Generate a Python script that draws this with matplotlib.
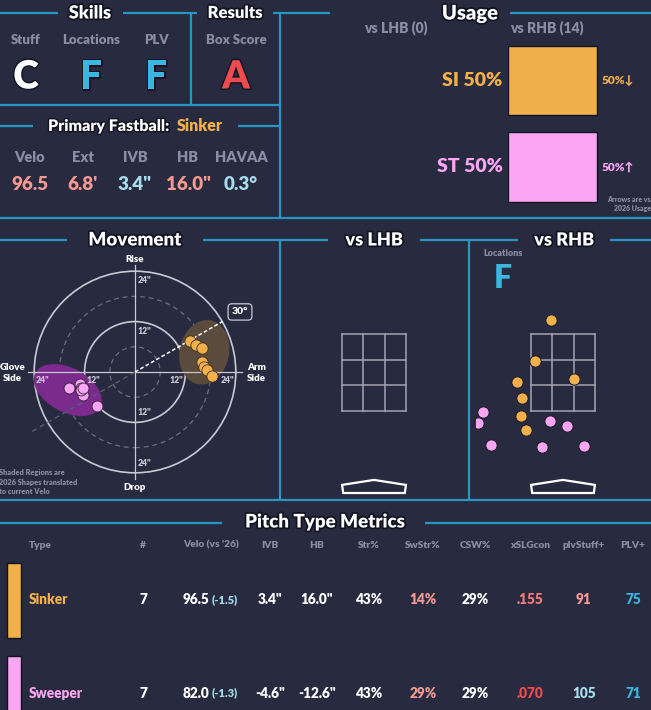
import matplotlib
matplotlib.use("Agg")
import matplotlib.pyplot as plt
import matplotlib.patheffects as pe
from matplotlib.patches import Circle, Ellipse, Polygon, Rectangle
import numpy as np

W, H = 651, 710
BG = "#282a3f"
LINE = "#2896c2"
GRAY = "#8b8da6"
WHITE = "#ffffff"
ORANGE = "#f2b04b"
PINK = "#fba6f3"
BLUE = "#3bb6e0"
LBLUE = "#a6dcec"
SALMON = "#f59a93"
RED = "#ee4b51"
RING = "#c9c9d3"

plt.rcParams['font.family'] = ['Lato', 'DejaVu Sans']
plt.rcParams['font.weight'] = 'heavy'

# ---- data ----
skill_labels = ["Stuff", "Locations", "PLV"]
skill_grades = ["C", "F", "F"]
skill_colors = [WHITE, BLUE, BLUE]
result_label = "Box Score"
result_grade = "A"

fb_name = "Sinker"
fb_labels = ["Velo", "Ext", "IVB", "HB", "HAVAA"]
fb_values = ["96.5", "6.8'", '3.4"', '16.0"', "0.3°"]
fb_colors = [SALMON, SALMON, LBLUE, SALMON, LBLUE]

usage_types = ["SI", "ST"]
usage_rhb = [50, 50]
usage_arrows = ["↓", "↑"]
n_lhb, n_rhb = 0, 14

si_hb = [13.1, 14.5, 16.0, 16.0, 16.4, 17.1, 18.3]
si_ivb = [7.4, 6.4, 5.7, 2.4, 1.2, 0.5, -1.0]
st_hb = [-15.7, -13.1, -12.9, -12.4, -9.0, -12.8, -12.3]
st_ivb = [-3.8, -2.9, -3.8, -5.5, -8.1, -4.3, -3.8]
arm_angle = 30

si_plate_x = [-0.31, -0.73, 0.29, -1.19, -1.06, -1.09, -0.96]
si_plate_z = [3.86, 2.80, 2.33, 2.25, 1.84, 1.37, 1.01]
st_plate_x = [-2.08, -2.21, -1.87, -0.34, 0.10, -0.55, 0.55]
st_plate_z = [1.47, 1.19, 0.62, 1.24, 1.11, 0.56, 0.59]

table_cols = ["Type", "#", "Velo (vs '26)", "IVB", "HB", "Str%", "SwStr%",
              "CSW%", "xSLGcon", "plvStuff+", "PLV+"]
pitch_names = ["Sinker", "Sweeper"]
pitch_colors = [ORANGE, PINK]
pitch_counts = [7, 7]
pitch_velo = [96.5, 82.0]
velo_diff = [-1.5, -1.3]
pitch_ivb = [3.4, -4.6]
pitch_hb = [16.0, -12.6]
str_pct = [43, 43]
swstr_pct = [14, 29]
csw_pct = [29, 29]
xslgcon = [".155", ".070"]
plv_stuff = [91, 105]
plv_plus = [75, 71]

# ---- figure ----
fig = plt.figure(figsize=(W / 100, H / 100), dpi=100)
fig.patch.set_facecolor(BG)
bg = fig.add_axes([0, 0, 1, 1])
bg.set_xlim(0, W)
bg.set_ylim(H, 0)
bg.axis('off')


def px_axes(x0, y0, x1, y1):
    a = fig.add_axes([x0 / W, 1 - y1 / H, (x1 - x0) / W, (y1 - y0) / H])
    a.set_facecolor('none')
    a.axis('off')
    return a


def hline(y, x0, x1):
    bg.plot([x0, x1], [y, y], color=LINE, lw=1.6, solid_capstyle='butt')


def vline(x, y0, y1):
    bg.plot([x, x], [y0, y1], color=LINE, lw=1.6, solid_capstyle='butt')


def header(text, x, y, size=12.5):
    bg.text(x, y, text, color=WHITE, fontsize=size, ha='center', va='center',
            path_effects=[pe.withStroke(linewidth=2.5, foreground="#121320")])


# frame lines
for x0, x1 in [(0, 58), (123, 197), (273, 330), (510, 651)]:
    hline(13, x0, x1)
vline(191, 13, 105)
vline(280, 13, 218)
hline(105, 0, 280)
hline(126, 0, 33)
hline(126, 238, 280)
hline(218, 0, 651)
for x0, x1 in [(0, 67), (203, 328), (420, 518), (610, 651)]:
    hline(240, x0, x1)
vline(280, 240, 500)
vline(469, 240, 500)
hline(500, 0, 651)
hline(523, 0, 222)
hline(523, 425, 651)

header("Skills", 90, 13, 13)
header("Results", 235, 13, 12)
header("Usage", 470, 13, 14.5)
header("Movement", 135, 240, 13.5)
header("vs LHB", 374, 240, 13)
header("vs RHB", 564, 240, 13)
header("Pitch Type Metrics", 325, 522, 13.5)

# ---- skills / results ----
for lab, g, c, x in zip(skill_labels + [result_label], skill_grades + [result_grade],
                        skill_colors + [RED], [26, 91, 156, 236]):
    bg.text(x, 40, lab, color=GRAY, fontsize=9.5, ha='center', va='center')
    bg.text(x, 77, g, color=c, fontsize=28, ha='center', va='center',
            path_effects=[pe.withStroke(linewidth=2, foreground="#121320")])

bg.text(170, 126, "Primary Fastball:", color=WHITE, fontsize=11.5, ha='right', va='center',
        path_effects=[pe.withStroke(linewidth=2, foreground="#121320")])
bg.text(177, 126, fb_name, color=ORANGE, fontsize=11.5, ha='left', va='center')
for lab, v, c, x in zip(fb_labels, fb_values, fb_colors, [30, 83, 135, 188, 241]):
    bg.text(x, 157, lab, color=GRAY, fontsize=10.5, ha='center', va='center')
    bg.text(x, 185, v, color=c, fontsize=13.5, ha='center', va='center')

# ---- usage ----
bg.text(428, 28, f"vs LHB ({n_lhb})", color=GRAY, fontsize=10, ha='right', va='center')
bg.text(510, 28, f"vs RHB ({n_rhb})", color=GRAY, fontsize=10, ha='left', va='center')
ua = px_axes(508, 30, 651, 218)
ua.set_xlim(0, 80.3)
ua.set_ylim(1.59, -0.584)
cols = [ORANGE, PINK]
ua.barh(range(len(usage_types)), usage_rhb, height=0.8, color=cols,
        edgecolor="#111222", lw=1)
for i, (t, v, arr) in enumerate(zip(usage_types, usage_rhb, usage_arrows)):
    ua.annotate(f"{t} {v}%", xy=(0, i), xytext=(-4, 0), textcoords='offset points',
                ha='right', va='center', color=cols[i], fontsize=14,
                annotation_clip=False)
    ua.annotate(f"{v}%{arr}", xy=(v, i), xytext=(3.5, 0), textcoords='offset points',
                ha='left', va='center', color=cols[i], fontsize=8.5,
                annotation_clip=False)
bg.text(651, 204, "Arrows are vs\n2026 Usage", color=GRAY, fontsize=5, ha='right',
        va='center', linespacing=1.3)

# ---- movement ----
PPI = 4.2
ma = px_axes(0, 250, 270, 494)
ma.set_xlim(-135 / PPI, 135 / PPI)
ma.set_ylim(-122 / PPI, 122 / PPI)
ma.set_aspect('equal')
for r in [6, 18]:
    ma.add_patch(Circle((0, 0), r, fill=False, ec="#6a6d84", lw=0.9, ls=(0, (4, 3))))
for r in [12, 24]:
    ma.add_patch(Circle((0, 0), r, fill=False, ec=RING, lw=1.2))
ma.plot([-25.5, 25.5], [0, 0], color=RING, lw=0.9)
ma.plot([0, 0], [-25.5, 25.5], color=RING, lw=0.9)
for r in [12, 24]:
    ma.text(0.6, r - 2.3, f'{r}"', color=RING, fontsize=6.2, ha='left', va='center')
    ma.text(0.6, -r + 2.3, f'{r}"', color=RING, fontsize=6.2, ha='left', va='center')
    ma.text(-r + 0.4, -2.1, f'{r}"', color=RING, fontsize=6.2, ha='left', va='center')
    ma.text(r - 0.4, -2.1, f'{r}"', color=RING, fontsize=6.2, ha='right', va='center')
ma.text(0, 26.9, "Rise", color=WHITE, fontsize=7, ha='center', va='center')
ma.text(0, -27.4, "Drop", color=WHITE, fontsize=7, ha='center', va='center')
ma.text(-29.2, -0.2, "Glove\nSide", color=WHITE, fontsize=7, ha='center', va='center',
        linespacing=1.2)
ma.text(28.9, -0.2, "Arm\nSide", color=WHITE, fontsize=7, ha='center', va='center',
        linespacing=1.2)

ma.add_patch(Ellipse((16.5, 4.7), 11.8, 15.5, angle=-12, color="#5a4b3d", lw=0))
ma.add_patch(Ellipse((-16.0, -4.3), 17.5, 10.5, angle=-28, color="#7a2b8b", lw=0))

a = np.deg2rad(arm_angle)
ma.plot([0, 24 * np.cos(a)], [0, 24 * np.sin(a)], color=WHITE, lw=1.1, ls=(0, (2.5, 1.5)))
ma.plot([0, -29 * np.cos(a)], [0, -29 * np.sin(a)], color="#5d6078", lw=0.9,
        ls=(0, (4, 3)))
ma.text(25.0, 14.3, f"{arm_angle}°", color=WHITE, fontsize=7.5, ha='center', va='center',
        bbox=dict(boxstyle="round,pad=0.35", fc=BG, ec=RING, lw=0.9))

ma.scatter(si_hb, si_ivb, s=66, color=ORANGE, edgecolor="#3a3020", lw=0.6, zorder=5)
ma.scatter(st_hb, st_ivb, s=62, color=PINK, edgecolor="#3a2040", lw=0.6, zorder=5)

bg.text(-1, 482, "Shaded Regions are\n2026 Shapes translated\nto current Velo",
        color=GRAY, fontsize=5.3, ha='left', va='center', linespacing=1.35)

# ---- locations ----
FT = 38.5
zone_x = np.linspace(-0.83, 0.83, 4)
zone_z = np.linspace(1.5, 3.5, 4)
plate = [(-0.83, -0.42), (0, -0.29), (0.83, -0.42), (0.80, -0.63), (-0.80, -0.63)]


def loc_axes(x0, x1, cx):
    la = px_axes(x0, 250, x1, 499)
    la.set_xlim((x0 - cx) / FT, (x1 - cx) / FT)
    la.set_ylim(1.5 - (499 - 411) / FT, 1.5 + (411 - 250) / FT)
    for zx in zone_x:
        la.plot([zx, zx], [zone_z[0], zone_z[-1]], color="#a3a3b2", lw=1.1)
    for zz in zone_z:
        la.plot([zone_x[0], zone_x[-1]], [zz, zz], color="#a3a3b2", lw=1.1)
    la.add_patch(Polygon(plate, closed=True, fc=BG, ec=WHITE, lw=1.6))
    return la


lhb = loc_axes(286, 463, 374)
rhb = loc_axes(476, 651, 563)
rhb.scatter(si_plate_x, si_plate_z, s=66, color=ORANGE, edgecolor="#1a1b28", lw=0.7,
            zorder=5)
rhb.scatter(st_plate_x, st_plate_z, s=66, color=PINK, edgecolor="#1a1b28", lw=0.7,
            zorder=5)
bg.text(503, 254, "Locations", color=GRAY, fontsize=6.5, ha='center', va='center')
bg.text(503, 278, skill_grades[1], color=BLUE, fontsize=23, ha='center', va='center')

# ---- table ----
col_x = [29, 143, 211, 270, 317, 369, 423, 475, 530, 584, 633]
for i, c in enumerate(table_cols):
    bg.text(col_x[i], 545, c, color=GRAY, fontsize=7.3, ha='left' if i == 0 else 'center',
            va='center')

FS = 9.8
row_y = [600, 693]
bar_top = [563, 656]
for r in range(len(pitch_names)):
    y = row_y[r]
    bg.add_patch(Rectangle((7, bar_top[r]), 14, 75, fc=pitch_colors[r], ec="#111222", lw=1))
    bg.text(col_x[0], y, pitch_names[r], color=pitch_colors[r], fontsize=FS, ha='left',
            va='center')
    bg.text(col_x[1], y, str(pitch_counts[r]), color=WHITE, fontsize=FS, ha='center',
            va='center')
    bg.text(209, y, f"{pitch_velo[r]:.1f}", color=WHITE, fontsize=FS, ha='right',
            va='center')
    bg.text(212, y, f"({velo_diff[r]:.1f})", color=LBLUE, fontsize=8, ha='left',
            va='center')
    bg.text(col_x[3], y, f'{pitch_ivb[r]:.1f}"', color=WHITE, fontsize=FS, ha='center',
            va='center')
    bg.text(col_x[4], y, f'{pitch_hb[r]:.1f}"', color=WHITE, fontsize=FS, ha='center',
            va='center')
    bg.text(col_x[5], y, f"{str_pct[r]}%", color=WHITE, fontsize=FS, ha='center',
            va='center')
    bg.text(col_x[6], y, f"{swstr_pct[r]}%", color=SALMON, fontsize=FS, ha='center',
            va='center')
    bg.text(col_x[7], y, f"{csw_pct[r]}%", color=WHITE, fontsize=FS, ha='center',
            va='center')
    bg.text(col_x[8], y, xslgcon[r], color=["#f27c7c", RED][r], fontsize=FS,
            ha='center', va='center')
    bg.text(col_x[9], y, str(plv_stuff[r]), color=[SALMON, LBLUE][r], fontsize=FS,
            ha='center', va='center')
    bg.text(col_x[10], y, str(plv_plus[r]), color=BLUE, fontsize=FS, ha='center',
            va='center')

fig.savefig("out.png", dpi=100, facecolor=BG)
